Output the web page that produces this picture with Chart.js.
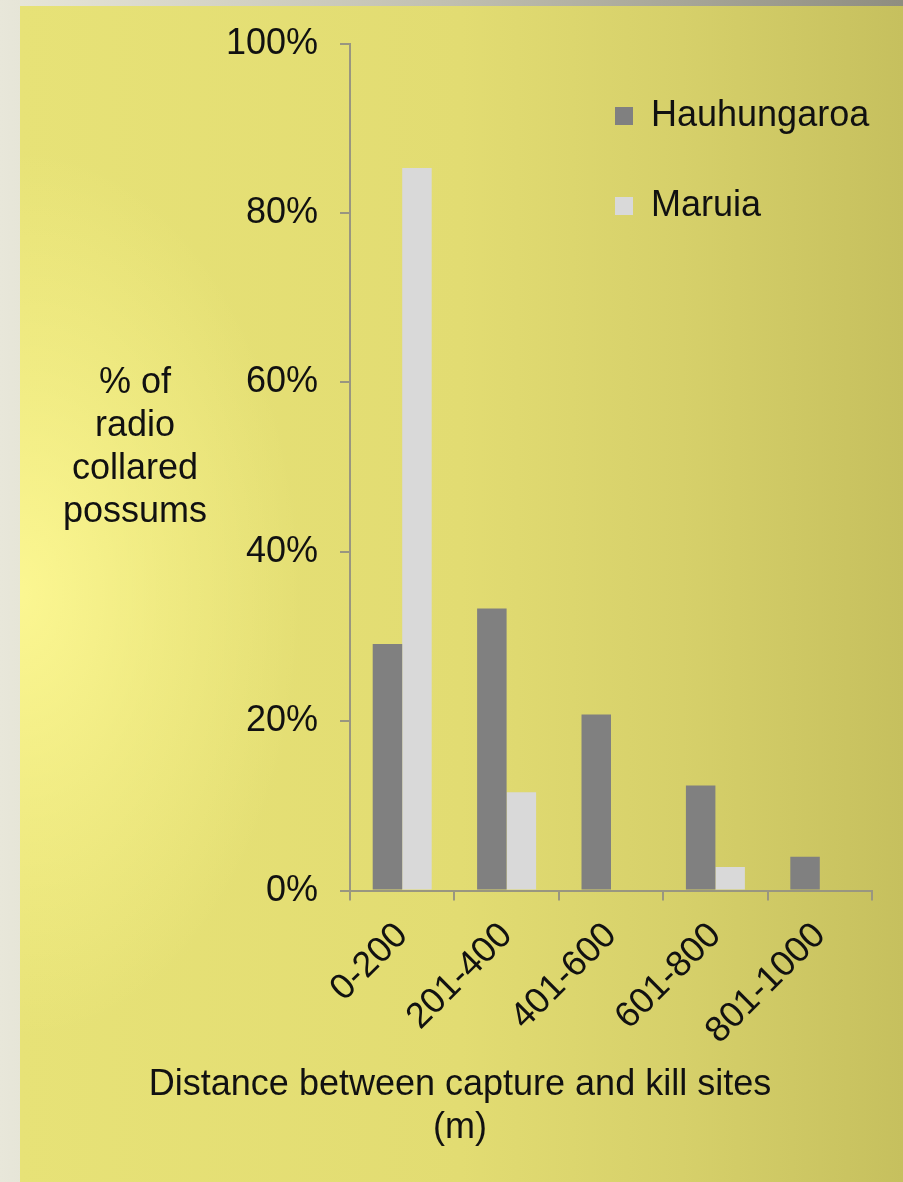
<!DOCTYPE html>
<html>
<head>
<meta charset="utf-8">
<script src="https://cdn.jsdelivr.net/npm/chart.js@4.4.1/dist/chart.umd.min.js"></script>
<style>
  html, body { margin: 0; padding: 0; }
  body {
    width: 903px; height: 1182px; overflow: hidden; position: relative;
    background: linear-gradient(to right, #e8e7da 0%, #c0bfb0 50%, #8e8d80 100%);
  }
  #panel {
    position: absolute; left: 20px; top: 6px; width: 883px; height: 1176px;
    background:
      radial-gradient(ellipse 32% 38% at 0% 50%, rgba(255,250,150,0.85) 0%, rgba(255,250,150,0.4) 50%, rgba(255,250,150,0) 100%),
      linear-gradient(to right, #e7e277 0%, #e2dc72 50%, #d6d06a 75%, #c6c05e 100%);
  }
  #chart { position: absolute; left: 0; top: 0; }
</style>
</head>
<body>
<div id="panel"></div>
<canvas id="chart" width="903" height="1182"></canvas>
<script>
const categories = ['0-200', '201-400', '401-600', '601-800', '801-1000'];
const hauhungaroa = [29.1, 33.3, 20.8, 12.4, 4.0];
const maruia = [85.3, 11.6, 0, 2.8, 0];
const seriesNames = ['Hauhungaroa', 'Maruia'];
const yTicks = [0, 20, 40, 60, 80, 100];
const yTitleLines = ['% of', 'radio', 'collared', 'possums'];
const xTitleLines = ['Distance between capture and kill sites', '(m)'];

const FONT = 'Liberation Sans, Arial, sans-serif';
const axisColor = '#999680';
const textColor = '#111111';

const legendShift = {
  id: 'legendShift',
  afterLayout(chart) {
    const lg = chart.legend;
    if (!lg) return;
    const newLeft = 561;
    const w = lg.width, h = lg.height;
    lg.left = newLeft;
    lg.right = newLeft + w;
    lg.top = lg.top + 44;
    lg.bottom = lg.top + h;
    lg.adjustHitBoxes && lg.adjustHitBoxes();
  }
};

const yTitlePlugin = {
  id: 'yTitle',
  afterDraw(chart) {
    const ctx = chart.ctx;
    ctx.save();
    ctx.font = '36px ' + FONT;
    ctx.fillStyle = textColor;
    ctx.textAlign = 'center';
    ctx.textBaseline = 'middle';
    const cx = 135;
    const y0 = 383;
    const lh = 43;
    yTitleLines.forEach((t, i) => ctx.fillText(t, cx, y0 + i * lh));
    ctx.restore();
  }
};

new Chart(document.getElementById('chart'), {
  type: 'bar',
  data: {
    labels: categories,
    datasets: [
      { label: seriesNames[0], data: hauhungaroa, backgroundColor: '#808080', borderWidth: 0 },
      { label: seriesNames[1], data: maruia, backgroundColor: '#d9d9d9', borderWidth: 0 }
    ]
  },
  options: {
    responsive: false,
    devicePixelRatio: 1,
    animation: false,
    layout: { padding: { left: 48, right: 31, top: 42, bottom: 32 } },
    datasets: { bar: { categoryPercentage: 0.565, barPercentage: 1.0 } },
    plugins: {
      legend: {
        position: 'chartArea',
        align: 'start',
        labels: {
          font: { family: FONT, size: 36 },
          color: textColor,
          boxWidth: 18,
          boxHeight: 18,
          padding: 54
        }
      },
      title: {
        display: true,
        position: 'bottom',
        text: xTitleLines,
        color: textColor,
        font: { family: FONT, size: 36, weight: 'normal', lineHeight: 1.2 },
        padding: { top: 10, bottom: 0 }
      },
      tooltip: { enabled: false }
    },
    scales: {
      x: {
        grid: { display: true, drawOnChartArea: false, drawTicks: true, tickLength: 10, color: axisColor, lineWidth: 2, offset: true },
        border: { display: true, color: axisColor, width: 2 },
        ticks: {
          color: textColor,
          font: { family: FONT, size: 36 },
          minRotation: 45, maxRotation: 45,
          padding: 14
        },
        afterFit(scale) { scale.height = 163; }
      },
      y: {
        min: 0, max: 100,
        afterBuildTicks(scale) { scale.ticks = yTicks.map(v => ({ value: v })); },
        grid: { display: true, drawOnChartArea: false, drawTicks: true, tickLength: 10, color: axisColor, lineWidth: 2 },
        border: { display: true, color: axisColor, width: 2 },
        ticks: {
          color: textColor,
          font: { family: FONT, size: 36 },
          padding: 22,
          callback: v => v + '%'
        },
        afterFit(scale) { scale.width = 302; }
      }
    }
  },
  plugins: [legendShift, yTitlePlugin]
});
</script>
</body>
</html>
